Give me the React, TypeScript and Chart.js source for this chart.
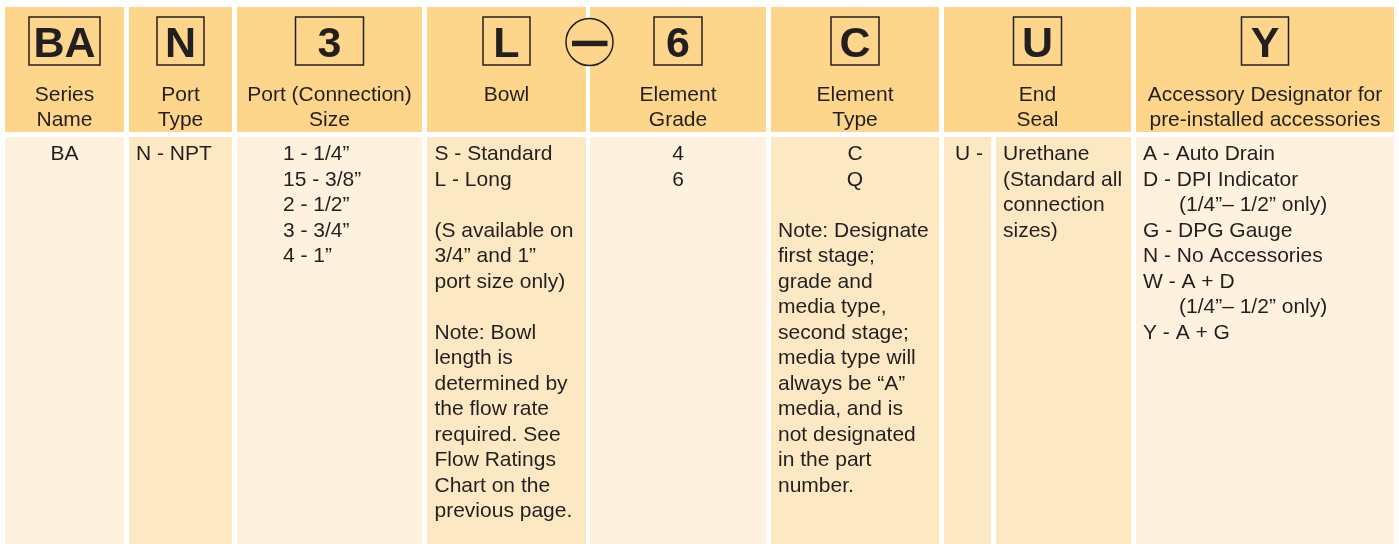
import React, { useEffect, useRef } from 'react';
import { Chart, registerables } from 'chart.js';

Chart.register(...registerables);

// ---------- DATA ----------
const codes = ['BA', 'N', '3', 'L', '6', 'C', 'U', 'Y'];
const headerLabels = [
  ['Series', 'Name'],
  ['Port', 'Type'],
  ['Port (Connection)', 'Size'],
  ['Bowl'],
  ['Element', 'Grade'],
  ['Element', 'Type'],
  ['End', 'Seal'],
  ['Accessory Designator for', 'pre-installed accessories'],
];
const seriesNames = ['BA'];
const portTypes = ['N - NPT'];
const portSizes = ['1 - 1/4\u201D', '15 - 3/8\u201D', '2 - 1/2\u201D', '3 - 3/4\u201D', '4 - 1\u201D'];
const bowlLines = [
  'S - Standard', 'L - Long', '', '(S available on', '3/4\u201D and 1\u201D', 'port size only)', '',
  'Note: Bowl', 'length is', 'determined by', 'the flow rate', 'required. See', 'Flow Ratings',
  'Chart on the', 'previous page.',
];
const elementGrades = ['4', '6'];
const elementTypes = ['C', 'Q'];
const elementTypeNote = [
  'Note: Designate', 'first stage;', 'grade and', 'media type,', 'second stage;', 'media type will',
  'always be \u201CA\u201D', 'media, and is', 'not designated', 'in the part', 'number.',
];
const endSealCodes = ['U -'];
const endSealNote = ['Urethane', '(Standard all', 'connection', 'sizes)'];
const accessoryLines = [
  'A - Auto Drain', 'D - DPI Indicator', '(1/4\u201D\u2013 1/2\u201D only)', 'G - DPG Gauge',
  'N - No Accessories', 'W - A + D', '(1/4\u201D\u2013 1/2\u201D only)', 'Y - A + G',
];
const accessorySubLine = [false, false, true, false, false, false, true, false];

// ---------- LAYOUT / STYLE ----------
const W = 1399;
const H = 544;
const COLS: [number, number][] = [
  [5, 124], [129, 232], [237, 422], [427, 586], [590, 766], [771, 939], [944, 1131], [1136, 1394],
];
const END_SEAL_SPLIT: [number, number][] = [[944, 991], [996, 1131]];
const BOX_W = [71, 47, 68, 47, 48, 48, 48, 47];
const HEADER_TOP = 7, HEADER_BOTTOM = 132, BODY_TOP = 137, BODY_BOTTOM = 544;
const BOX_TOP = 17, BOX_BOTTOM = 65;
const CODE_BASE = 56.5;
const LABEL_BASE = 100.5, LINE_H = 25.3;
const BODY_BASE = 160, BODY_LINE = 25.5;
const C_HEAD = '#FDD68B';
const C_LIGHT = '#FEF2DF';
const C_DARK = '#FDE8C4';
const C_TEXT = '#231F20';
const BODY_SHADES = [C_LIGHT, C_DARK, C_LIGHT, C_DARK, C_LIGHT, C_DARK, C_DARK, C_LIGHT];
const FONT = '21px "Liberation Sans", Arial, sans-serif';
const CODE_FONT = 'bold 43px "Liberation Sans", Arial, sans-serif';

const tablePlugin = {
  id: 'orderTable',
  afterDraw(chart: any) {
    const { ctx } = chart;
    const xs = chart.scales.x;
    const ys = chart.scales.y;
    const px = (v: number) => xs.getPixelForValue(v);
    const py = (v: number) => ys.getPixelForValue(v);
    const rect = (x0: number, y0: number, x1: number, y1: number, color: string) => {
      ctx.fillStyle = color;
      const a = px(x0), b = py(y0), c = px(x1), d = py(y1);
      ctx.fillRect(Math.min(a, c), Math.min(b, d), Math.abs(c - a), Math.abs(d - b));
    };
    const text = (s: string, x: number, y: number, align: CanvasTextAlign, font = FONT) => {
      ctx.font = font;
      ctx.textAlign = align;
      ctx.textBaseline = 'alphabetic';
      ctx.fillStyle = C_TEXT;
      ctx.fillText(s, px(x), py(y));
    };
    const lines = (arr: string[], x: number, align: CanvasTextAlign, start = 0) => {
      arr.forEach((s, i) => {
        if (s) text(s, x, BODY_BASE + (start + i) * BODY_LINE, align);
      });
    };

    ctx.save();
    rect(0, 0, W, H, '#FFFFFF');

    // header + body cells
    COLS.forEach(([l, r], i) => {
      rect(l, HEADER_TOP, r, HEADER_BOTTOM, C_HEAD);
      if (i === 6) {
        END_SEAL_SPLIT.forEach(([a, b]) => rect(a, BODY_TOP, b, BODY_BOTTOM, BODY_SHADES[i]));
      } else {
        rect(l, BODY_TOP, r, BODY_BOTTOM, BODY_SHADES[i]);
      }
    });

    // code boxes and header labels
    COLS.forEach(([l, r], i) => {
      const cx = (l + r) / 2;
      const bw = BOX_W[i];
      ctx.strokeStyle = C_TEXT;
      ctx.lineWidth = 1.5;
      ctx.strokeRect(px(cx - bw / 2), py(BOX_TOP), px(cx + bw / 2) - px(cx - bw / 2), py(BOX_BOTTOM) - py(BOX_TOP));
      text(codes[i], cx, CODE_BASE, 'center', CODE_FONT);
      headerLabels[i].forEach((s, j) => text(s, cx, LABEL_BASE + j * LINE_H, 'center'));
    });

    // dash circle between Bowl and Element Grade
    const ccx = (COLS[3][1] + COLS[4][0]) / 2 + 1.5;
    const ccy = 42;
    const r = 23.5;
    ctx.beginPath();
    ctx.arc(px(ccx), py(ccy), r, 0, Math.PI * 2);
    ctx.fillStyle = C_HEAD;
    ctx.fill();
    ctx.strokeStyle = C_TEXT;
    ctx.lineWidth = 1.5;
    ctx.stroke();
    ctx.fillStyle = C_TEXT;
    ctx.fillRect(px(ccx - 17.5), py(ccy - 1.3), 35.5, 5.5);

    // body text
    const mid = (i: number) => (COLS[i][0] + COLS[i][1]) / 2;
    lines(seriesNames, mid(0), 'center');
    lines(portTypes, COLS[1][0] + 7, 'left');
    lines(portSizes, COLS[2][0] + 46, 'left');
    lines(bowlLines, COLS[3][0] + 7.5, 'left');
    lines(elementGrades, mid(4), 'center');
    lines(elementTypes, mid(5), 'center');
    lines(elementTypeNote, COLS[5][0] + 7, 'left', 3);
    lines(endSealCodes, END_SEAL_SPLIT[0][0] + 11, 'left');
    lines(endSealNote, END_SEAL_SPLIT[1][0] + 7, 'left');
    accessoryLines.forEach((s, i) => {
      text(s, COLS[7][0] + (accessorySubLine[i] ? 43 : 7), BODY_BASE + i * BODY_LINE, 'left');
    });
    ctx.restore();
  },
};

export default function App() {
  const ref = useRef<HTMLCanvasElement>(null);
  useEffect(() => {
    document.body.style.margin = '0';
    document.body.style.overflow = 'hidden';
    const chart = new Chart(ref.current as HTMLCanvasElement, {
      type: 'scatter',
      data: { datasets: [] },
      options: {
        responsive: false,
        animation: false,
        events: [],
        layout: { padding: 0 },
        plugins: { legend: { display: false }, tooltip: { enabled: false } },
        scales: {
          x: { type: 'linear', min: 0, max: W, display: false },
          y: { type: 'linear', min: 0, max: H, reverse: true, display: false },
        },
      },
      plugins: [tablePlugin],
    } as any);
    return () => chart.destroy();
  }, []);
  return <canvas ref={ref} width={W} height={H} style={{ display: 'block' }} />;
}
